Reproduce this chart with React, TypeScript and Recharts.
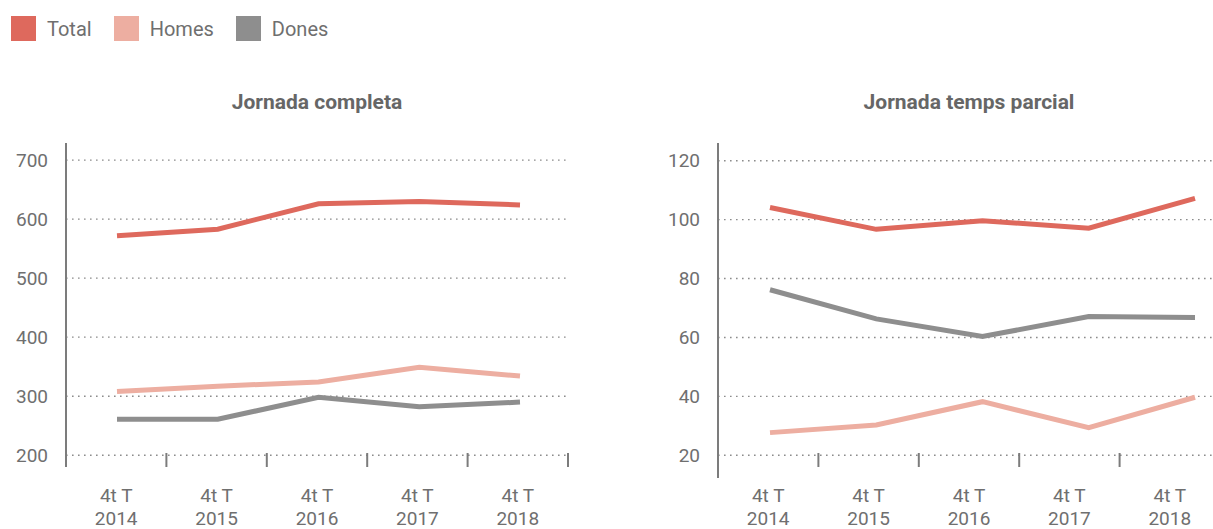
import { CartesianGrid, Line, LineChart, XAxis, YAxis } from 'recharts'

const QUARTERS = ['4t T 2014', '4t T 2015', '4t T 2016', '4t T 2017', '4t T 2018']
const SERIES = ['Total', 'Homes', 'Dones'] as const

const COMPLETA_TOTAL = [572, 583, 626, 630, 624]
const COMPLETA_HOMES = [308, 317, 324, 349, 334]
const COMPLETA_DONES = [261, 261, 298, 282, 290]
const COMPLETA_TICKS = [200, 300, 400, 500, 600, 700]

const PARCIAL_TOTAL = [104.1, 96.7, 99.6, 97.1, 107.2]
const PARCIAL_HOMES = [27.7, 30.3, 38.2, 29.4, 39.7]
const PARCIAL_DONES = [76.2, 66.3, 60.3, 67.1, 66.8]
const PARCIAL_TICKS = [20, 40, 60, 80, 100, 120]

const COLORS: Record<string, string> = {
  Total: '#de695d',
  Homes: '#edaea1',
  Dones: '#8e8e8e',
}
const TEXT = '#6f6f6f'
const AXIS = '#7c7c7c'
const FONT = 'Roboto, "Noto Sans", sans-serif'
const PLOT_W = 502

function buildRows(total: number[], homes: number[], dones: number[]) {
  return QUARTERS.map((quarter, i) => ({
    quarter,
    Total: total[i],
    Homes: homes[i],
    Dones: dones[i],
  }))
}

function QuarterTick(props: any) {
  const { x, y, payload, lift } = props
  const half = PLOT_W / QUARTERS.length / 2
  const base = y - lift
  const label = String(payload.value)
  const cut = label.lastIndexOf(' ')
  return (
    <g>
      <line x1={x + half} x2={x + half} y1={base - 14} y2={base} stroke={AXIS} strokeWidth={2} />
      <text x={x} y={base + 35} textAnchor="middle" fill={TEXT} fontSize={19} fontFamily={FONT}>
        {label.slice(0, cut)}
      </text>
      <text x={x} y={base + 58} textAnchor="middle" fill={TEXT} fontSize={19} fontFamily={FONT}>
        {label.slice(cut + 1)}
      </text>
    </g>
  )
}

interface PanelProps {
  left: number
  width: number
  title: string
  rows: ReturnType<typeof buildRows>
  ticks: number[]
  domain: [number, number]
  yAxisWidth: number
  axisHeight: number
  lift: number
  pointPadding: { left: number; right: number }
}

function Panel({ left, width, title, rows, ticks, domain, yAxisWidth, axisHeight, lift, pointPadding }: PanelProps) {
  return (
    <div style={{ position: 'absolute', left, top: 0 }}>
      <div
        style={{
          position: 'absolute',
          left: yAxisWidth,
          top: 89,
          width: PLOT_W,
          textAlign: 'center',
          fontSize: 21,
          lineHeight: '26px',
          fontWeight: 700,
          color: '#666',
        }}
      >
        {title}
      </div>
      <LineChart
        width={width}
        height={529}
        data={rows}
        margin={{ top: 143, right: width - yAxisWidth - PLOT_W, bottom: 0, left: 0 }}
      >
        <CartesianGrid
          vertical={false}
          syncWithTicks
          stroke="#8c8c8c"
          strokeWidth={1.4}
          strokeDasharray="1.6 4.4"
        />
        <XAxis
          xAxisId="cat"
          dataKey="quarter"
          scale="band"
          height={axisHeight}
          axisLine={false}
          tickLine={false}
          tickSize={0}
          tickMargin={0}
          interval={0}
          tick={(p: any) => <QuarterTick {...p} lift={lift} />}
        />
        <XAxis xAxisId="pts" dataKey="quarter" scale="point" hide padding={pointPadding} />
        <YAxis
          width={yAxisWidth}
          domain={domain}
          ticks={ticks}
          allowDataOverflow
          axisLine={{ stroke: AXIS, strokeWidth: 2 }}
          tickLine={false}
          tickSize={0}
          tickMargin={18}
          tick={{ fill: TEXT, fontSize: 19, fontFamily: FONT }}
        />
        {SERIES.map((name) => (
          <Line
            key={name}
            xAxisId="pts"
            type="linear"
            dataKey={name}
            stroke={COLORS[name]}
            strokeWidth={5}
            dot={false}
            activeDot={false}
            isAnimationActive={false}
          />
        ))}
      </LineChart>
    </div>
  )
}

export default function App() {
  const completa = buildRows(COMPLETA_TOTAL, COMPLETA_HOMES, COMPLETA_DONES)
  const parcial = buildRows(PARCIAL_TOTAL, PARCIAL_HOMES, PARCIAL_DONES)

  return (
    <div
      style={{
        position: 'absolute',
        left: 0,
        top: 0,
        width: 1213,
        height: 529,
        overflow: 'hidden',
        background: '#fff',
        fontFamily: FONT,
      }}
    >
      <div style={{ position: 'absolute', left: 11, top: 16, height: 25, display: 'flex', alignItems: 'center' }}>
        {SERIES.map((name) => (
          <div key={name} style={{ display: 'flex', alignItems: 'center', marginRight: 22 }}>
            <span style={{ width: 25, height: 25, background: COLORS[name], marginRight: 11 }} />
            <span style={{ fontSize: 20, color: TEXT }}>{name}</span>
          </div>
        ))}
      </div>
      <Panel
        left={0}
        width={600}
        title="Jornada completa"
        rows={completa}
        ticks={COMPLETA_TICKS}
        domain={[180, 729]}
        yAxisWidth={66}
        axisHeight={62}
        lift={0}
        pointPadding={{ left: 51, right: 48 }}
      />
      <Panel
        left={600}
        width={640}
        title="Jornada temps parcial"
        rows={parcial}
        ticks={PARCIAL_TICKS}
        domain={[12.3, 126]}
        yAxisWidth={118}
        axisHeight={51}
        lift={11}
        pointPadding={{ left: 52, right: 25 }}
      />
    </div>
  )
}
